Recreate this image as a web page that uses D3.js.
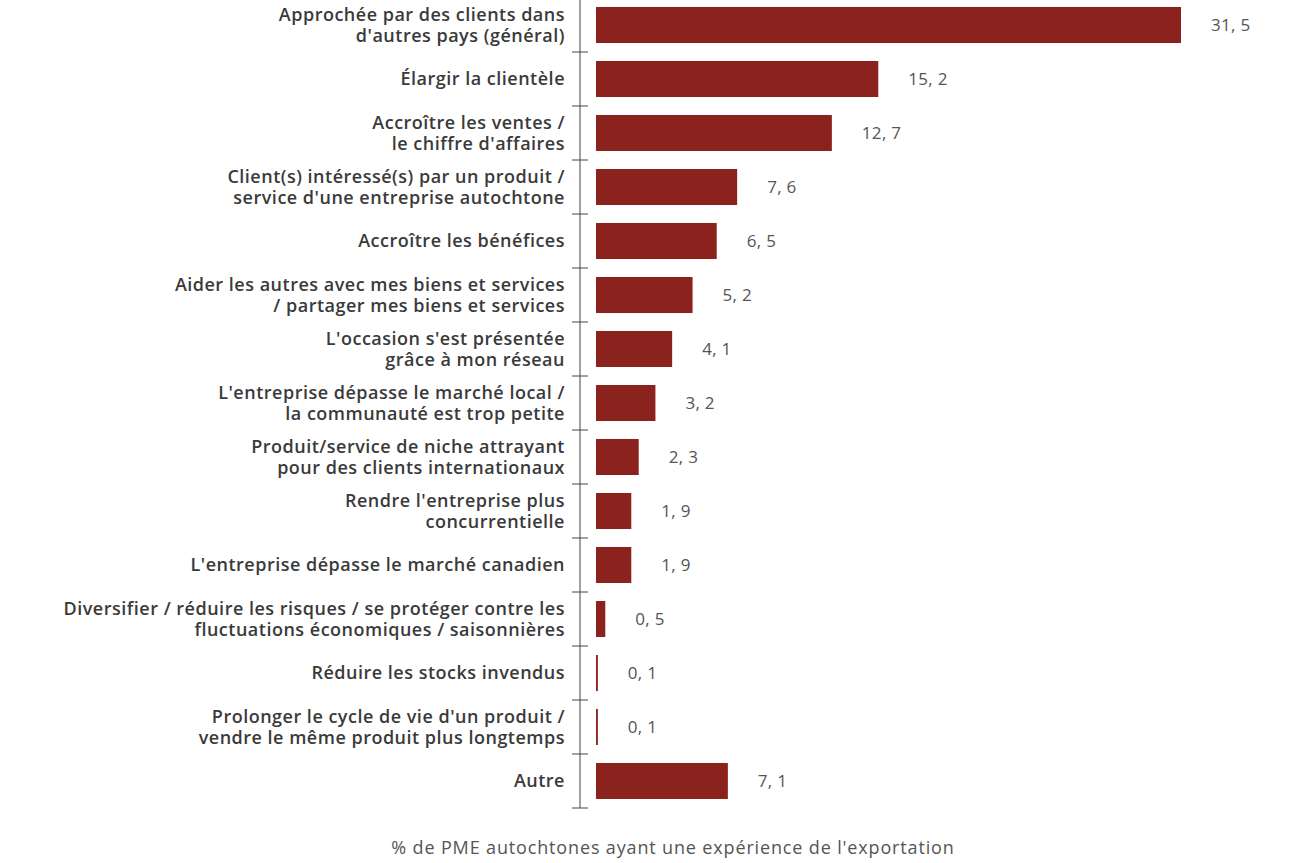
<!DOCTYPE html>
<html><head><meta charset="utf-8">
<script src="https://cdn.jsdelivr.net/npm/d3@7"></script>
<style>body{margin:0;background:#fff;} svg{display:block;}</style>
</head><body>
<svg id="chart" width="1297" height="863"></svg>
<script>
const categories = [
  ["Approchée par des clients dans","d'autres pays (général)"],
  ["Élargir la clientèle"],
  ["Accroître les ventes /","le chiffre d'affaires"],
  ["Client(s) intéressé(s) par un produit /","service d'une entreprise autochtone"],
  ["Accroître les bénéfices"],
  ["Aider les autres avec mes biens et services","/ partager mes biens et services"],
  ["L'occasion s'est présentée","grâce à mon réseau"],
  ["L'entreprise dépasse le marché local /","la communauté est trop petite"],
  ["Produit/service de niche attrayant","pour des clients internationaux"],
  ["Rendre l'entreprise plus","concurrentielle"],
  ["L'entreprise dépasse le marché canadien"],
  ["Diversifier / réduire les risques / se protéger contre les","fluctuations économiques / saisonnières"],
  ["Réduire les stocks invendus"],
  ["Prolonger le cycle de vie d'un produit /","vendre le même produit plus longtemps"],
  ["Autre"]
];
const values = [31.5, 15.2, 12.7, 7.6, 6.5, 5.2, 4.1, 3.2, 2.3, 1.9, 1.9, 0.5, 0.1, 0.1, 7.1];
const axisTitle = "% de PME autochtones ayant une expérience de l'exportation";

const svg = d3.select("#chart");
const ids = categories.map((d,i)=>i);
const y = d3.scaleBand().domain(ids).range([-2, 808]).paddingInner(0.333).paddingOuter(0.1665);
const x = d3.scaleLinear().domain([0, 31.5]).range([596, 1181]);
const axisX = 580;

// bars
svg.append("g").selectAll("rect").data(values).join("rect")
  .attr("x", x(0)).attr("y", (d,i)=>y(i))
  .attr("width", d=>Math.max(0, x(d)-x(0))).attr("height", y.bandwidth())
  .attr("fill", "#8B221E");

// value labels
svg.append("g").selectAll("text").data(values).join("text")
  .attr("x", d=>x(d)+30).attr("y", (d,i)=>y(i)+y.bandwidth()/2)
  .attr("dy","0.35em")
  .attr("font-family","'Open Sans', sans-serif").attr("font-size",17)
  .attr("letter-spacing","0.3px")
  .attr("fill","#555").text(d=>d.toFixed(1).replace(".", ", "));

// axis line and ticks
const step = y.step();
const tickYs = d3.range(categories.length+1).map(i=>-2 + i*step);
const ax = svg.append("g").attr("stroke","#444").attr("stroke-width",1);
ax.append("line").attr("x1",axisX).attr("x2",axisX).attr("y1",tickYs[0]).attr("y2",tickYs[tickYs.length-1]);
ax.selectAll("line.t").data(tickYs).join("line").attr("class","t")
  .attr("x1",axisX-8).attr("x2",axisX+8).attr("y1",d=>d).attr("y2",d=>d);

// category labels
const lab = svg.append("g").selectAll("text").data(categories).join("text")
  .attr("text-anchor","end")
  .attr("font-family","'Open Sans', sans-serif").attr("font-weight",600).attr("font-size",18)
  .attr("letter-spacing","0.5px")
  .attr("fill","#3a3a3a");
lab.each(function(lines,i){
  const cy = y(i)+y.bandwidth()/2;
  const lh = 21.5;
  const t = d3.select(this);
  lines.forEach((ln,k)=>{
    t.append("tspan").attr("x",565)
     .attr("y", cy + (k-(lines.length-1)/2)*lh).attr("dy","0.35em").text(ln);
  });
});

// axis title
svg.append("text").attr("x",673).attr("y",848).attr("dy","0.35em")
  .attr("text-anchor","middle").attr("font-family","'Open Sans', sans-serif")
  .attr("font-size",18).attr("letter-spacing","0.85px").attr("fill","#555").text(axisTitle);
</script>
</body></html>
